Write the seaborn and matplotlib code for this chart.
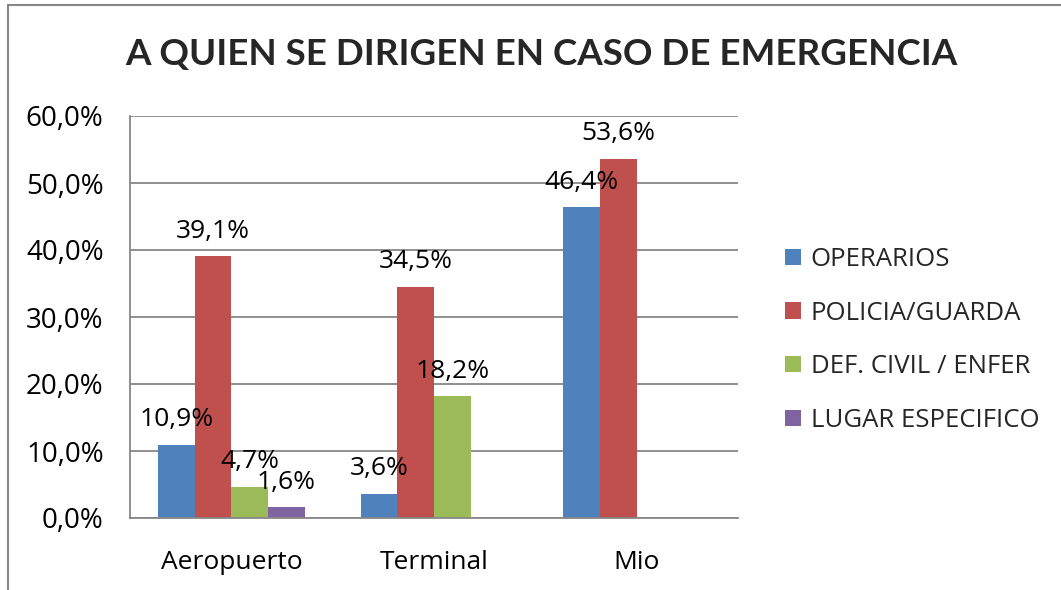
import matplotlib
matplotlib.use("Agg")
import matplotlib.pyplot as plt
import seaborn as sns
import pandas as pd
import numpy as np
from matplotlib.ticker import FuncFormatter, FixedLocator
from matplotlib.patches import Rectangle

categories = ["Aeropuerto", "Terminal", "Mio"]
series = ["OPERARIOS", "POLICIA/GUARDA", "DEF. CIVIL / ENFER", "LUGAR ESPECIFICO"]
operarios = [10.9, 3.6, 46.4]
policia = [39.1, 34.5, 53.6]
defcivil = [4.7, 18.2, np.nan]
lugar = [1.6, np.nan, np.nan]
colors = ["#4F81BD", "#C0504D", "#9BBB59", "#8064A2"]

rows = []
for s, vals in zip(series, [operarios, policia, defcivil, lugar]):
    for c, v in zip(categories, vals):
        rows.append({"cat": c, "serie": s, "val": v})
df = pd.DataFrame(rows)

sns.set_style("white")
plt.rcParams["font.family"] = ["Open Sans", "DejaVu Sans"]

fig = plt.figure(figsize=(10.61, 5.9), dpi=100)
ax = fig.add_axes([130/1061, 1-518/590, (738-130)/1061, (518-116)/590])

sns.barplot(data=df.dropna(), x="cat", y="val", hue="serie", order=categories,
            hue_order=series, palette=colors, width=0.725, gap=0,
            saturation=1, ax=ax, errorbar=None, legend=True, linewidth=0)

for cont in ax.containers:
    labels = [("%.1f%%" % b.get_height()).replace(".", ",") if not np.isnan(b.get_height()) else "" for b in cont]
    ax.bar_label(cont, labels=labels, padding=9, fontsize=19, color="black")

ax.set_ylim(0, 60)
ax.set_xlim(-0.5, 2.5)
ax.set_yticks(np.arange(0, 61, 10))
ax.yaxis.set_major_formatter(FuncFormatter(lambda v, p: ("%.1f%%" % v).replace(".", ",")))
ax.grid(axis="y", color="#878787", linewidth=1.3)
ax.set_axisbelow(True)
ax.set_xlabel("")
ax.set_ylabel("")
for sp in ["top", "right"]:
    ax.spines[sp].set_visible(False)
for sp in ["left", "bottom"]:
    ax.spines[sp].set_color("#878787")
    ax.spines[sp].set_linewidth(1.3)
ax.tick_params(axis="y", length=8, width=1.3, color="#878787", labelsize=20, pad=11, labelcolor="black")
ax.tick_params(axis="x", which="major", length=0, labelsize=19, pad=23, labelcolor="black")
ax.xaxis.set_minor_locator(FixedLocator([-0.5, 0.5, 1.5, 2.5]))
ax.tick_params(axis="x", which="minor", length=8, width=1.3, color="#878787")

leg = ax.legend(loc="center left", bbox_to_anchor=(762/1061, 1-340/590), bbox_transform=fig.transFigure,
                frameon=False, fontsize=18.5, handlelength=0.6, handleheight=0.6,
                handletextpad=0.4, labelspacing=1.12)

fig.text(541/1061, 1-55/590, "A QUIEN SE DIRIGEN EN CASO DE EMERGENCIA",
         ha="center", va="center", fontsize=26.5, fontweight="bold", family=["Lato", "DejaVu Sans"])

fig.patches.append(Rectangle((8/1061, -0.05), 1.2, 1-5/590+0.05, transform=fig.transFigure,
                             fill=False, edgecolor="#878787", linewidth=1.5))

fig.savefig("out.png", dpi=100)
